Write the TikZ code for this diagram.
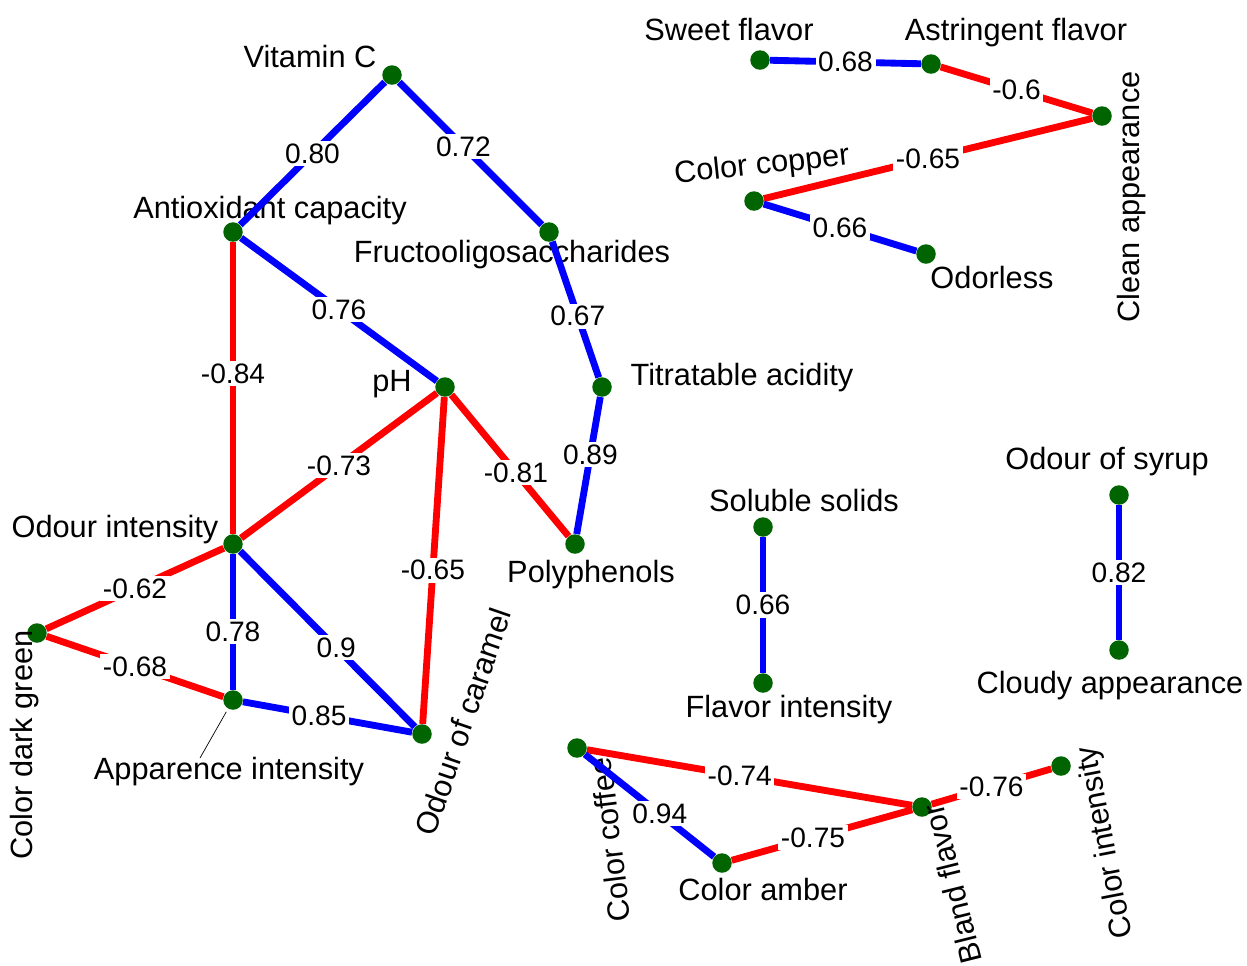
\documentclass[tikz,border=0pt]{standalone}
\usepackage{fontspec}
\setmainfont{Liberation Sans}
\definecolor{dgreen}{RGB}{0,100,0}
\begin{document}
\begin{tikzpicture}[x=0.02cm, y=-0.02cm,
    dot/.style={shape=circle, fill=dgreen, minimum size=0.39cm, inner sep=0pt},
    posline/.style={draw=blue, line width=3.9pt},
    negline/.style={draw=red, line width=3.9pt},
    val/.style={fill=white, inner sep=1.5pt, font=\fontsize{16}{18}\selectfont},
    lbl/.style={inner sep=0pt, font=\fontsize{17.5}{20}\selectfont}]
    \useasboundingbox (0,0) rectangle (1247,965);

    % dots
    \node[dot] (VitC) at (392, 75) {};
    \node[dot] (Antiox) at (233, 232) {};
    \node[dot] (Fructo) at (549, 232) {};
    \node[dot] (PH) at (445, 387) {};
    \node[dot] (Titra) at (602, 387) {};
    \node[dot] (OdInt) at (233, 544) {};
    \node[dot] (Poly) at (575, 544) {};
    \node[dot] (DkGreen) at (37, 633) {};
    \node[dot] (AppInt) at (233, 700) {};
    \node[dot] (Caramel) at (422, 734) {};
    \node[dot] (Soluble) at (763, 527) {};
    \node[dot] (FlavInt) at (763, 683) {};
    \node[dot] (Syrup) at (1119, 495) {};
    \node[dot] (Cloudy) at (1119, 650) {};
    \node[dot] (Sweet) at (760, 60) {};
    \node[dot] (Astr) at (931, 64) {};
    \node[dot] (Clean) at (1102, 116) {};
    \node[dot] (Copper) at (754, 201) {};
    \node[dot] (Odorless) at (926, 254) {};
    \node[dot] (Coffee) at (577, 748) {};
    \node[dot] (Amber) at (722, 863) {};
    \node[dot] (Bland) at (922, 807) {};
    \node[dot] (ColInt) at (1061, 766) {};

    % labels
    \node[lbl] (tVitC) at (310, 57) {Vitamin C};
    \node[lbl] (tAntiox) at (270, 211) {Antioxidant capacity};
    \node[lbl] (tFructo) at (512, 255) {Fructooligosaccharides};
    \node[lbl] (tPH) at (392, 384) {pH};
    \node[lbl] (tTitra) at (742, 378) {Titratable acidity};
    \node[lbl] (tOdInt) at (115, 530) {Odour intensity};
    \node[lbl] (tPoly) at (591, 575) {Polyphenols};
    \node[lbl, rotate=90] (tDkGreen) at (25, 745) {Color dark green};
    \node[lbl] (tAppInt) at (229, 772) {Apparence intensity};
    \node[lbl, rotate=71] (tCaramel) at (463, 722) {Odour of caramel};
    \node[lbl] (tSoluble) at (804, 500) {Soluble solids};
    \node[lbl] (tFlavInt) at (789, 710) {Flavor intensity};
    \node[lbl] (tSyrup) at (1107, 462) {Odour of syrup};
    \node[lbl] (tCloudy) at (1110, 686) {Cloudy appearance};
    \node[lbl] (tSweet) at (729, 30) {Sweet flavor};
    \node[lbl] (tAstr) at (1016, 33) {Astringent flavor};
    \node[lbl, rotate=90] (tClean) at (1132, 197) {Clean appearance};
    \node[lbl, rotate=6] (tCopper) at (762, 166) {Color copper};
    \node[lbl] (tOdorless) at (992, 277) {Odorless};
    \node[lbl, rotate=97] (tCoffee) at (610, 840) {Color coffee};
    \node[lbl] (tAmber) at (763, 889) {Color amber};
    \node[lbl, rotate=104] (tBland) at (952, 884) {Bland flavor};
    \node[lbl, rotate=101] (tColInt) at (1106, 842) {Color intensity};

    \coordinate (appTip) at (200, 758);
    \draw[thin, shorten <=2pt] (AppInt) -- (appTip);

    % correlations
    \draw[posline] (VitC) -- node[val] (e1) {0.80} (Antiox);
    \draw[posline] (VitC) -- node[val, pos=0.45] (e2) {0.72} (Fructo);
    \draw[posline] (Antiox) -- node[val] (e3) {0.76} (PH);
    \draw[negline] (Antiox) -- node[val, pos=0.45] (e4) {-0.84} (OdInt);
    \draw[posline] (Fructo) -- node[val, pos=0.55] (e5) {0.67} (Titra);
    \draw[posline] (Titra) -- node[val, pos=0.42] (e6) {0.89} (Poly);
    \draw[negline] (PH) -- node[val] (e7) {-0.73} (OdInt);
    \draw[negline] (PH) -- node[val, pos=0.53] (e8) {-0.65} (Caramel);
    \draw[negline] (PH) -- node[val, pos=0.55] (e9) {-0.81} (Poly);
    \draw[negline] (OdInt) -- node[val] (e10) {-0.62} (DkGreen);
    \draw[posline] (OdInt) -- node[val, pos=0.57] (e11) {0.78} (AppInt);
    \draw[posline] (OdInt) -- node[val, pos=0.55] (e12) {0.9} (Caramel);
    \draw[negline] (DkGreen) -- node[val] (e13) {-0.68} (AppInt);
    \draw[posline] (AppInt) -- node[val, pos=0.45] (e14) {0.85} (Caramel);
    \draw[posline] (Sweet) -- node[val] (e15) {0.68} (Astr);
    \draw[negline] (Astr) -- node[val] (e16) {-0.6} (Clean);
    \draw[negline] (Clean) -- node[val] (e17) {-0.65} (Copper);
    \draw[posline] (Copper) -- node[val] (e18) {0.66} (Odorless);
    \draw[posline] (Soluble) -- node[val] (e19) {0.66} (FlavInt);
    \draw[posline] (Syrup) -- node[val] (e20) {0.82} (Cloudy);
    \draw[negline] (Coffee) -- node[val, pos=0.47] (e21) {-0.74} (Bland);
    \draw[posline] (Coffee) -- node[val, pos=0.58] (e22) {0.94} (Amber);
    \draw[negline] (Amber) -- node[val, pos=0.45] (e23) {-0.75} (Bland);
    \draw[negline] (Bland) -- node[val] (e24) {-0.76} (ColInt);
\end{tikzpicture}
\end{document}
